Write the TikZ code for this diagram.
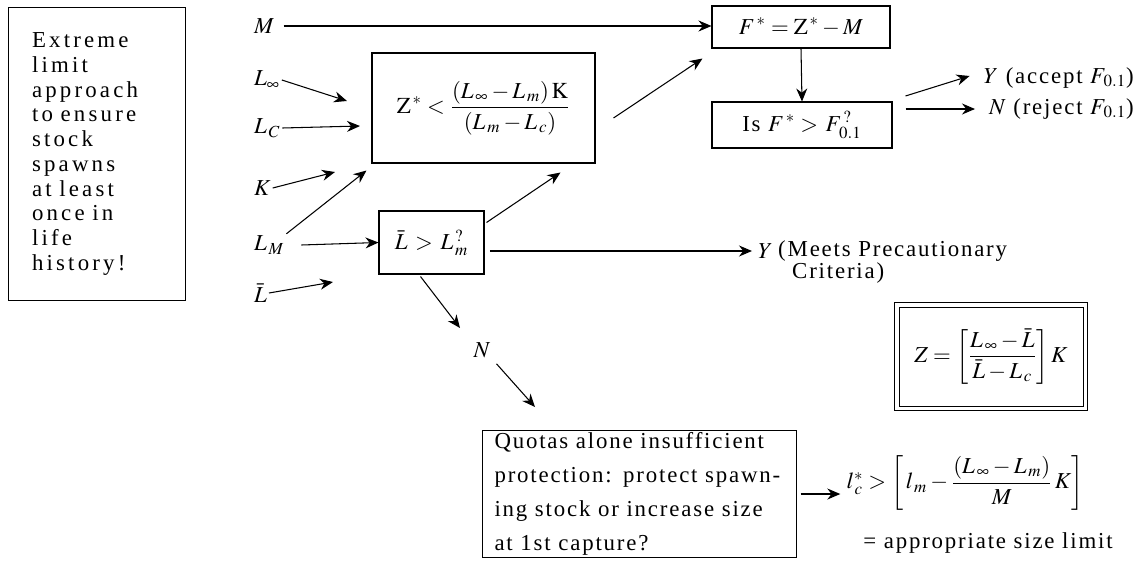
\documentclass[tikz,border=0pt]{standalone}
\usepackage{mathptmx}
\usepackage{mathtools}
\usepackage{fontspec}
\setmainfont{Liberation Serif}[LetterSpace=8]
\newfontfamily\widefont{Liberation Serif}[LetterSpace=14]
\usetikzlibrary{positioning, arrows.meta}

\begin{document}
\begin{tikzpicture}[x=0.02cm, y=-0.02cm, font=\fontsize{13}{16}\selectfont,
	box/.style={draw, line width=0.6pt, inner sep=0pt},
	arr/.style={-{Stealth[length=2.6mm, width=2.2mm]}, line width=0.6pt}]
	\useasboundingbox (0,0) rectangle (1143,561);
	\node[box, anchor=north west, minimum width=3.54cm, minimum height=5.86cm, text width=2.6cm, align=left, font=\widefont\fontsize{13}{14.1}\selectfont] (goal) at (8,7)
		{Extreme\\ limit\\ approach\\ to ensure\\ stock\\ spawns\\ at least\\ once in\\ life\\ history!};
	\foreach \nm/\y/\lab in {M/26/M, Linf/80/L_{\infty}, Lc/128/L_{\,C}, K/188/K, Lm/245/L_{\,M}, Lbar/293/\bar{L}}
		\node[anchor=west, inner sep=1pt] (v\nm) at (252,\y) {$\lab$};
	\node[box, minimum width=4.46cm, minimum height=2.2cm] (zbox) at (483.5,108)
		{$\displaystyle \mathrm{Z}^{\,*} < \frac{\left(L_{\,\infty}-L_{\,m}\right)\mathrm{K}}{\left(L_{\,m}-L_{\,c}\right)}$};
	\node[box, minimum width=2.1cm, minimum height=1.26cm] (lbarbox) at (431.5,242.5) {$\bar{L} \,>\, L^{\,?}_{\,m}$};
	\node[box, minimum width=3.56cm, minimum height=0.84cm] (fbox) at (801,27) {$F^{\,*} = \mathrm{Z}^{\,*} - M$};
	\node[box, minimum width=3.6cm, minimum height=0.92cm] (isbox) at (802,125) {Is $F^{\,*} > \, F^{\,?}_{\,0.1}$};
	\node[anchor=east] (yacc) at (1140,78) {$Y$ (accept $F_{\,0.1}$)};
	\node[anchor=east] (nrej) at (1140,109) {$N$ (reject $F_{\,0.1}$)};
	\node[anchor=west] (vY) at (752,251) {$Y$};
	\node[anchor=west] (meets) at (772,251) {(Meets Precautionary};
	\node[anchor=west] (crit) at (786,273) {Criteria)};
	\node (vN) at (482,350) {$N$};
	\node[box, line width=0.5pt, minimum width=3.68cm, minimum height=1.98cm] (zform) at (991,356.5)
		{$Z = \left[\dfrac{L_{\,\infty} - \bar{L}}{\bar{L} - L_{\,c}}\right] K$};
	\draw[line width=0.5pt] ([shift={(-4,-4)}]zform.north west) rectangle ([shift={(4,4)}]zform.south east);
	\node[box, anchor=north west, minimum width=6.28cm, minimum height=2.54cm, inner xsep=0.24cm, text width=5.8cm, align=left, font=\fontsize{13}{19.3}\selectfont] (qbox) at (482,430)
		{Quotas alone insufficient\\ protection: protect spawn-\\ ing stock or increase size\\ at 1st capture?};
	\node (lcform) at (965,483) {$l^{*}_{\,c} > \left[\, l_{\,m} - \dfrac{\left(L_{\,\infty}-L_{\,m}\right)}{M}\, K\right]$};
	\node (limtxt) at (988,543) {= appropriate size limit};
	\coordinate (tLinf) at (347,101);
	\coordinate (tLc) at (360,126);
	\coordinate (tK) at (335,172);
	\coordinate (tLbar) at (333,282);
	\coordinate (tN) at (460,328);
	\foreach \s/\t in {vLinf/tLinf, vLc/tLc, vK/tK, vLbar/tLbar}
		\draw[arr] (\s.east) -- (\t);
	\draw[arr] ([xshift=0.15cm]vM.east) -- (vM.east -| fbox.west);
	\draw[arr] (vLm.north east) -- ([shift={(-5,7)}]zbox.south west);
	\draw[arr] ([xshift=0.3cm]vLm.east) -- (lbarbox.west);
	\draw[arr] ([shift={(2,12)}]lbarbox.north east) -- ([shift={(-35,9)}]zbox.south east);
	\draw[arr] ([shift={(18,10)}]zbox.east) -- ([shift={(-9,10)}]fbox.south west);
	\draw[arr] (fbox.south) -- (isbox.north);
	\draw[arr] ([shift={(13,-29)}]isbox.east) -- ([shift={(-8,-2)}]yacc.west);
	\draw[arr] ([shift={(13,-16)}]isbox.east) -- ([shift={(-8,0)}]nrej.west);
	\draw[arr] ([xshift=3pt]vY.west -| lbarbox.east) -- (vY.west);
	\draw[arr] ([shift={(-11,2)}]lbarbox.south) -- (tN);
	\draw[arr] (vN.south east) -- ([shift={(53,-23)}]qbox.north west);
	\draw[arr] ([xshift=2pt]qbox.east) -- (qbox.east -| lcform.west);
\end{tikzpicture}
\end{document}
